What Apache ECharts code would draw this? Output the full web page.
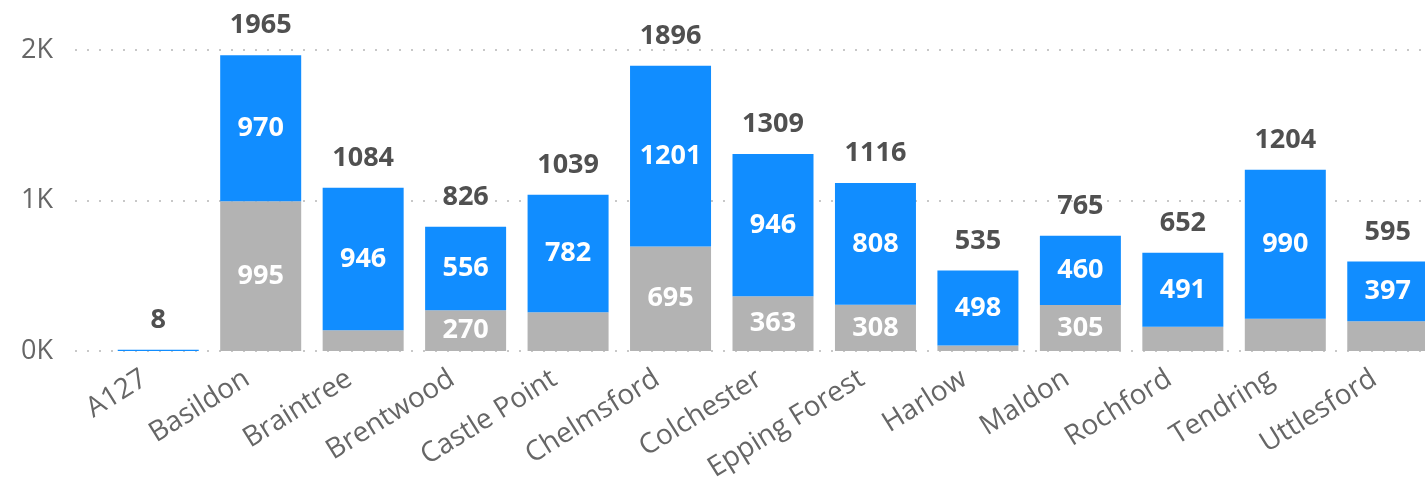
<!DOCTYPE html>
<html lang="en">
  <head>
    <meta charset="UTF-8" />
    <title>Stacked bars by district</title>
    <script src="https://cdn.jsdelivr.net/npm/echarts@6.0.0/dist/echarts.min.js"></script>
    <style>
      html, body { margin: 0; padding: 0; background: #fff; }
    </style>
  </head>
  <body>
    <div id="main" style="width: 1425px; height: 487px"></div>

    <script type="text/javascript">
      // data
      const districts = ["A127", "Basildon", "Braintree", "Brentwood", "Castle Point", "Chelmsford",
        "Colchester", "Epping Forest", "Harlow", "Maldon", "Rochford", "Tendring", "Uttlesford"];
      const greyValues = [0, 995, 138, 270, 257, 695, 363, 308, 37, 305, 161, 214, 198];
      const blueValues = [8, 970, 946, 556, 782, 1201, 946, 808, 498, 460, 491, 990, 397];
      const totals = [8, 1965, 1084, 826, 1039, 1896, 1309, 1116, 535, 765, 652, 1204, 595];
      const yTicks = [0, 1000, 2000];

      const font = "'Segoe UI', 'Open Sans', sans-serif";

      let myChart = echarts.init(document.getElementById("main"));

      // Power BI hides labels that don't fit in short segments
      function withLabels(values, minShown) {
        return values.map((v) => ({ value: v, label: { show: v >= minShown } }));
      }

      let options = {
        animation: false,
        grid: [
          // background grid: only for the dotted lines and y labels
          { left: 75, right: 0, top: 50, bottom: 136 },
          // bars; the last one runs off the right edge like in the original
          { left: 107, width: 1332, top: 50, bottom: 136, outerBoundsMode: "none" },
        ],
        xAxis: [
          { gridIndex: 0, type: "category", data: districts, show: false },
          {
            gridIndex: 1,
            type: "category",
            data: districts,
            axisLine: { show: false },
            axisTick: { show: false },
            axisLabel: {
              rotate: 32,
              margin: 17,
              padding: [0, 16, 0, 0],
              color: "#666",
              fontSize: 28,
              fontFamily: font,
            },
          },
        ],
        yAxis: [
          {
            gridIndex: 0,
            type: "value",
            min: yTicks[0],
            max: yTicks[yTicks.length - 1],
            interval: 1000,
            axisLine: { show: false },
            axisTick: { show: false },
            axisLabel: {
              margin: 22,
              color: "#666",
              fontSize: 27,
              fontFamily: font,
              formatter: (v) => v / 1000 + "K",
            },
            splitLine: {
              lineStyle: { color: "#c8c8c8", width: 2, type: [2, 10] },
            },
          },
          {
            gridIndex: 1,
            type: "value",
            min: yTicks[0],
            max: yTicks[yTicks.length - 1],
            interval: 1000,
            show: false,
          },
        ],
        series: [
          {
            name: "grey",
            type: "bar",
            xAxisIndex: 1,
            yAxisIndex: 1,
            stack: "total",
            barWidth: 81,
            itemStyle: { color: "#b3b3b3" },
            label: {
              position: "inside",
              color: "#fff",
              fontSize: 27,
              fontWeight: "bold",
              fontFamily: font,
            },
            data: withLabels(greyValues, 265),
          },
          {
            name: "blue",
            type: "bar",
            xAxisIndex: 1,
            yAxisIndex: 1,
            stack: "total",
            barWidth: 81,
            itemStyle: { color: "#118dff" },
            label: {
              position: "inside",
              color: "#fff",
              fontSize: 27,
              fontWeight: "bold",
              fontFamily: font,
            },
            data: withLabels(blueValues, 100),
          },
          {
            // zero-height bar on top of the stack, just to carry the total label
            name: "total",
            type: "bar",
            xAxisIndex: 1,
            yAxisIndex: 1,
            stack: "total",
            barWidth: 81,
            itemStyle: { color: "transparent" },
            label: {
              show: true,
              position: "top",
              distance: 16,
              color: "#505050",
              fontSize: 27,
              fontWeight: "bold",
              fontFamily: font,
              formatter: (p) => totals[p.dataIndex],
            },
            data: totals.map(() => 0),
          },
        ],
      };

      myChart.setOption(options);
    </script>
  </body>
</html>
